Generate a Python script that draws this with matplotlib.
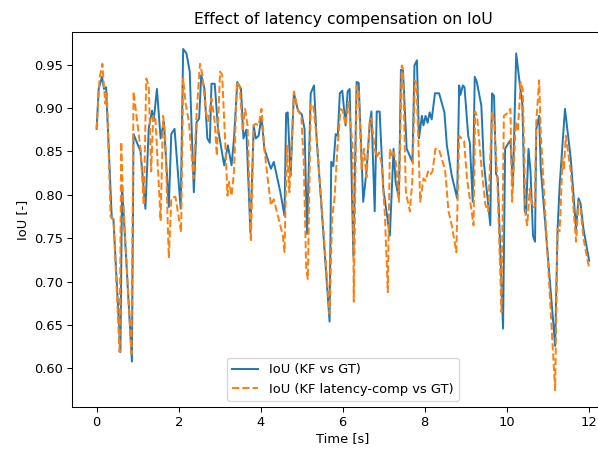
import matplotlib
matplotlib.use("Agg")
import matplotlib.pyplot as plt

t_kf = [0.00, 0.05, 0.13, 0.18, 0.23, 0.37, 0.41, 0.58, 0.62, 0.86, 0.90, 1.07, 1.19,
        1.27, 1.35, 1.39, 1.47, 1.56, 1.64, 1.76, 1.82, 1.90, 2.05, 2.11, 2.19, 2.27,
        2.37, 2.44, 2.50, 2.55, 2.63, 2.70, 2.76, 2.80, 2.88, 2.96, 3.11, 3.20, 3.29,
        3.35, 3.43, 3.52, 3.58, 3.65, 3.75, 3.83, 3.88, 3.95, 4.02, 4.09, 4.25, 4.32,
        4.48, 4.58, 4.62, 4.66, 4.73, 4.81, 4.91, 5.00, 5.07, 5.13, 5.22, 5.30, 5.36,
        5.68, 5.72, 5.77, 5.83, 5.88, 5.93, 5.99, 6.07, 6.12, 6.17, 6.26, 6.34, 6.39,
        6.50, 6.58, 6.66, 6.70, 6.78, 6.83, 6.90, 6.99, 7.15, 7.24, 7.29, 7.37, 7.42,
        7.47, 7.56, 7.70, 7.75, 7.81, 7.86, 7.93, 7.97, 8.02, 8.07, 8.12, 8.17, 8.25,
        8.35, 8.42, 8.48, 8.54, 8.66, 8.79, 8.84, 8.87, 8.93, 8.97, 9.06, 9.10, 9.17,
        9.22, 9.27, 9.38, 9.44, 9.60, 9.64, 9.69, 9.74, 9.78, 9.91, 9.96, 10.02, 10.09,
        10.15, 10.23, 10.34, 10.38, 10.44, 10.47, 10.53, 10.58, 10.64, 10.69, 10.72,
        10.79, 10.83, 11.18, 11.24, 11.29, 11.42, 11.56, 11.69, 11.75, 11.80, 11.87, 12.01]
iou_kf = [0.876, 0.922, 0.936, 0.922, 0.924, 0.773, 0.772, 0.619, 0.811, 0.608, 0.870, 0.850, 0.784,
          0.876, 0.897, 0.885, 0.922, 0.865, 0.884, 0.786, 0.870, 0.876, 0.784, 0.968, 0.963, 0.942,
          0.803, 0.884, 0.888, 0.938, 0.922, 0.865, 0.860, 0.928, 0.928, 0.876, 0.834, 0.857, 0.834,
          0.865, 0.930, 0.922, 0.865, 0.875, 0.757, 0.880, 0.865, 0.868, 0.890, 0.853, 0.830, 0.838,
          0.803, 0.776, 0.894, 0.895, 0.822, 0.917, 0.897, 0.893, 0.876, 0.755, 0.917, 0.926, 0.868,
          0.654, 0.838, 0.833, 0.870, 0.868, 0.917, 0.920, 0.880, 0.919, 0.922, 0.730, 0.930, 0.929,
          0.792, 0.827, 0.882, 0.896, 0.781, 0.896, 0.896, 0.807, 0.753, 0.853, 0.815, 0.796, 0.944,
          0.943, 0.853, 0.838, 0.949, 0.955, 0.865, 0.891, 0.880, 0.891, 0.883, 0.895, 0.887, 0.917,
          0.917, 0.905, 0.895, 0.857, 0.822, 0.796, 0.926, 0.915, 0.926, 0.924, 0.868, 0.860, 0.792,
          0.936, 0.930, 0.903, 0.838, 0.765, 0.917, 0.914, 0.824, 0.820, 0.646, 0.853, 0.858, 0.863,
          0.810, 0.963, 0.919, 0.905, 0.781, 0.778, 0.853, 0.827, 0.753, 0.746, 0.876,
          0.891, 0.830, 0.626, 0.761, 0.811, 0.899, 0.842, 0.761, 0.796, 0.790, 0.761, 0.724]

# IoU of the latency-compensated Kalman filter vs ground truth
t_lc = [0.00, 0.07, 0.14, 0.21, 0.25, 0.34, 0.41, 0.56, 0.60, 0.64, 0.85, 0.90, 0.98, 1.07,
        1.15, 1.21, 1.27, 1.33, 1.38, 1.43, 1.49, 1.56, 1.62, 1.67, 1.76, 1.82, 1.92, 2.06,
        2.11, 2.17, 2.25, 2.36, 2.44, 2.52, 2.58, 2.66, 2.72, 2.80, 2.88, 2.93, 3.01, 3.06,
        3.15, 3.19, 3.23, 3.29, 3.35, 3.42, 3.49, 3.56, 3.62, 3.68, 3.76, 3.83, 3.88, 3.95,
        4.02, 4.09, 4.17, 4.25, 4.32, 4.42, 4.54, 4.58, 4.64, 4.70, 4.81, 4.91, 4.99, 5.05,
        5.11, 5.15, 5.22, 5.28, 5.36, 5.68, 5.74, 5.80, 5.87, 5.95, 6.00, 6.07, 6.14, 6.24,
        6.27, 6.34, 6.39, 6.46, 6.52, 6.58, 6.66, 6.70, 6.78, 6.83, 6.88, 6.95, 7.03, 7.10,
        7.15, 7.20, 7.25, 7.30, 7.37, 7.44, 7.47, 7.54, 7.64, 7.70, 7.76, 7.80, 7.89, 7.97,
        8.02, 8.08, 8.13, 8.19, 8.26, 8.35, 8.44, 8.50, 8.58, 8.66, 8.77, 8.84, 8.90, 8.96,
        9.03, 9.11, 9.19, 9.23, 9.28, 9.38, 9.48, 9.55, 9.64, 9.69, 9.77, 9.87, 9.93, 10.01,
        10.09, 10.13, 10.22, 10.27, 10.34, 10.39, 10.46, 10.50, 10.56, 10.62, 10.68, 10.72,
        10.79, 10.83, 11.18, 11.24, 11.29, 11.36, 11.39, 11.44, 11.56, 11.69, 11.75, 11.80,
        11.87, 12.01]
iou_lc = [0.876, 0.934, 0.951, 0.905, 0.917, 0.775, 0.772, 0.619, 0.861, 0.799, 0.617, 0.919, 0.888, 0.853,
          0.788, 0.934, 0.926, 0.827, 0.891, 0.891, 0.834, 0.770, 0.891, 0.870, 0.727, 0.796, 0.798, 0.757,
          0.934, 0.905, 0.884, 0.819, 0.896, 0.951, 0.938, 0.896, 0.885, 0.911, 0.884, 0.845, 0.942, 0.938,
          0.845, 0.799, 0.815, 0.799, 0.827, 0.930, 0.925, 0.873, 0.899, 0.880, 0.746, 0.880, 0.882, 0.880,
          0.899, 0.853, 0.819, 0.788, 0.795, 0.776, 0.753, 0.734, 0.857, 0.803, 0.919, 0.897, 0.891, 0.838,
          0.715, 0.703, 0.905, 0.903, 0.868, 0.663, 0.773, 0.796, 0.853, 0.899, 0.897, 0.880, 0.907, 0.857,
          0.677, 0.926, 0.919, 0.830, 0.853, 0.820, 0.886, 0.888, 0.853, 0.843, 0.849, 0.836, 0.776, 0.688,
          0.853, 0.844, 0.849, 0.836, 0.792, 0.949, 0.945, 0.803, 0.781, 0.819, 0.932, 0.928, 0.792, 0.819,
          0.816, 0.827, 0.823, 0.827, 0.853, 0.852, 0.838, 0.827, 0.781, 0.765, 0.734, 0.868, 0.865, 0.862,
          0.819, 0.792, 0.765, 0.896, 0.889, 0.834, 0.788, 0.781, 0.896, 0.886, 0.819, 0.665, 0.891, 0.894,
          0.899, 0.792, 0.884, 0.873, 0.930, 0.921, 0.776, 0.765, 0.807, 0.786, 0.786, 0.884,
          0.932, 0.870, 0.575, 0.761, 0.758, 0.842, 0.828, 0.868, 0.827, 0.746, 0.792, 0.784,
          0.750, 0.715]

fig = plt.figure(figsize=(6.4, 4.816), dpi=93.44)
ax = fig.add_axes([0.1204, 0.095, 0.906, 0.834])

ax.plot(t_kf, iou_kf, label='IoU (KF vs GT)')
ax.plot(t_lc, iou_lc, '--', label='IoU (KF latency-comp vs GT)')

ax.set_title('Effect of latency compensation on IoU')
ax.set_xlabel('Time [s]', labelpad=2)
ax.set_ylabel('IoU [-]')
ax.legend(loc='lower center')

fig.savefig('out.png', dpi=93.44)
